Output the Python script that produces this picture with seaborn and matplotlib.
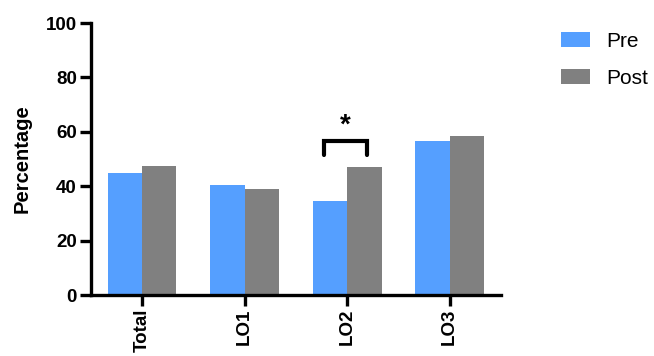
import pandas as pd
import seaborn as sns
import matplotlib.pyplot as plt

categories = ['Total', 'LO1', 'LO2', 'LO3']
pre = [45.0, 40.3, 34.4, 56.8]
post = [47.5, 39.0, 46.9, 58.4]

df = pd.DataFrame({
    'Category': categories * 2,
    'Percentage': pre + post,
    'Time': ['Pre'] * 4 + ['Post'] * 4,
})

sns.set_style('ticks')
plt.rcParams['font.family'] = ['Liberation Sans', 'DejaVu Sans']
plt.rcParams['text.color'] = 'black'
plt.rcParams['axes.labelcolor'] = 'black'

fig = plt.figure(figsize=(6.54, 3.56), dpi=100)
ax = fig.add_axes([90.7 / 654, 1 - 295 / 356, (501 - 90.7) / 654, (295 - 23) / 356])

sns.barplot(data=df, x='Category', y='Percentage', hue='Time',
            palette={'Pre': '#559FFF', 'Post': '#808080'},
            width=0.67, saturation=1, linewidth=0, ax=ax)

ax.set_xlim(-0.5, 3.5)
ax.set_ylim(0, 100)
ax.set_yticks([0, 20, 40, 60, 80, 100])
ax.set_xlabel('')
ax.set_ylabel('Percentage', fontsize=14.5, fontweight='bold', labelpad=10)
for side in ['top', 'right']:
    ax.spines[side].set_visible(False)
for side in ['left', 'bottom']:
    ax.spines[side].set_linewidth(2.4)
    ax.spines[side].set_color('black')
ax.tick_params(axis='both', width=2.4, length=8, labelsize=13.5, colors='black', pad=2)
plt.setp(ax.get_yticklabels(), fontweight='bold')
plt.setp(ax.get_xticklabels(), fontweight='bold', rotation=90)

# significance bracket over LO2
ax.plot([1.77, 1.77, 2.19, 2.19], [51.5, 56.6, 56.6, 51.5], color='black', lw=3,
        solid_joinstyle='miter', clip_on=False)
ax.text(1.98, 57.5, '*', ha='center', va='bottom', fontsize=20, fontweight='bold')

handles, labels = ax.get_legend_handles_labels()
ax.get_legend().remove()
fig.legend(handles, labels, loc='upper left', bbox_to_anchor=(561 / 654, 1 - 32 / 356),
           frameon=False, borderpad=0, borderaxespad=0, fontsize=15,
           handlelength=1.4, handleheight=0.7, labelspacing=0.85, handletextpad=0.75)

fig.savefig('out.png', dpi=100)
